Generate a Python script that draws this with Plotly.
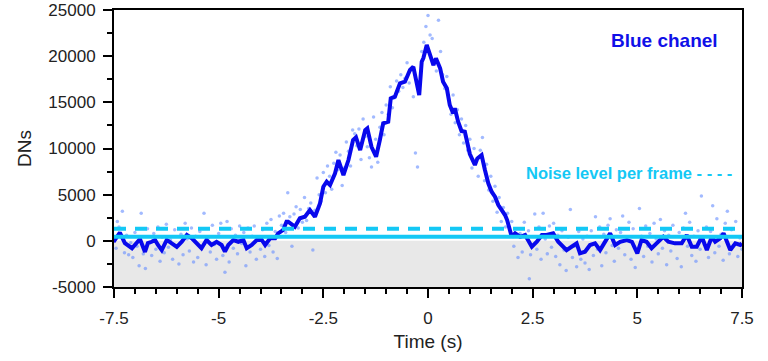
import plotly.graph_objects as go

# Smoothed signal (blue line)
line_t = [-7.5, -7.48, -7.36, -7.24, -7.07, -7.0, -6.88, -6.76, -6.69, -6.6, -6.52, -6.45, -6.36, -6.24, -6.12,
          -6.0, -5.88, -5.76, -5.64, -5.52, -5.41, -5.29, -5.17, -5.05, -4.93, -4.85, -4.77, -4.65, -4.53,
          -4.41, -4.33, -4.21, -4.09, -3.97, -3.89, -3.77, -3.65, -3.58, -3.5, -3.46, -3.38, -3.34, -3.18,
          -3.06, -2.94, -2.82, -2.7, -2.58, -2.5, -2.42, -2.34, -2.22, -2.14, -2.02, -1.9, -1.79, -1.72,
          -1.62, -1.5, -1.45, -1.35, -1.24, -1.15, -1.07, -0.95, -0.89, -0.79, -0.67, -0.55, -0.43, -0.35,
          -0.27, -0.21, -0.15, -0.11, -0.03, 0.05, 0.13, 0.19, 0.29, 0.36, 0.45, 0.52, 0.6, 0.64, 0.72,
          0.8, 0.88, 1.0, 1.12, 1.18, 1.28, 1.36, 1.44, 1.52, 1.6, 1.68, 1.76, 1.84, 1.89, 1.96, 2.0,
          2.08, 2.2, 2.32, 2.48, 2.6, 2.72, 2.83, 2.99, 3.11, 3.31, 3.43, 3.55, 3.63, 3.75, 3.87, 3.99,
          4.11, 4.2, 4.35, 4.47, 4.59, 4.75, 4.87, 5.0, 5.1, 5.22, 5.34, 5.46, 5.62, 5.74, 5.9, 6.06,
          6.18, 6.3, 6.42, 6.54, 6.66, 6.78, 6.86, 6.98, 7.06, 7.22, 7.34, 7.46, 7.5]
line_v = [200, 90, 900, -250, -800, -450, 200, -1200, -250, -100, 90, -450, -1000, 100, -250,
          -650, -100, 630, 270, -270, -800, 90, -450, -100, -450, -1180, -450, 90, -100,
          90, -800, -450, 90, 90, -450, 270, 270, 800, 1000, 1170, 2070, 2070, 1530,
          2440, 2610, 3340, 2610, 4060, 5860, 6400, 6040, 7310, 8750, 7130, 8750, 10920, 11210,
          9830, 12000, 12180, 10190, 9110, 10920, 12720, 12900, 15430, 15610, 17060, 17230, 18500, 18850,
          17000, 15790, 19400, 19800, 21210, 20120, 19040, 19760, 18680, 17230, 16520, 14710, 13810, 14350, 12900,
          11900, 11820, 9400, 8210, 8930, 9290, 7670, 6230, 5320, 4780, 3880, 3340, 2790, 2250, 1170, 440,
          810, 440, 630, -640, -100, 630, 630, 810, -100, -1000, -640, -270, -1350, -1180, -450, -270,
          -1000, -270, 810, -450, -100, 90, -100, -1350, 90, -100, -800, -270, 440, -100, -270, -270,
          630, -640, -640, 440, -1000, 440, -100, 270, 810, -1000, -270, -450, -300]

# Raw per-frame values (light blue dots)
raw_t = [-7.45, -7.42, -7.38, -7.3, -7.25, -7.2, -7.15, -7.1, -7.05, -7.0, -6.95, -6.9, -6.85, -6.8, -6.75,
         -6.7, -6.65, -6.6, -6.55, -6.5, -6.45, -6.4, -6.35, -6.3, -6.25, -6.2, -6.15, -6.1, -6.05, -6.0,
         -5.95, -5.9, -5.85, -5.8, -5.75, -5.7, -5.65, -5.6, -5.55, -5.5, -5.45, -5.4, -5.35, -5.3, -5.25,
         -5.2, -5.15, -5.1, -5.05, -5.0, -4.95, -4.9, -4.85, -4.8, -4.75, -4.7, -4.65, -4.6, -4.55, -4.5,
         -4.45, -4.4, -4.35, -4.3, -4.25, -4.2, -4.15, -4.1, -4.05, -4.0, -3.95, -3.9, -3.85, -3.8, -3.75,
         -3.7, -3.65, -3.6, -3.55, -3.5,
         -3.45, -3.4, -3.35, -3.3, -3.25, -3.2, -3.15, -3.1, -3.05, -3.0, -2.95, -2.9, -2.85, -2.8, -2.75,
         -2.7, -2.65, -2.6, -2.55, -2.5, -2.45, -2.4, -2.35, -2.3, -2.25, -2.2, -2.15, -2.1, -2.05, -2.0,
         -1.95, -1.9, -1.85, -1.8, -1.75, -1.7, -1.65, -1.6, -1.55, -1.5, -1.45, -1.4, -1.35, -1.3, -1.25,
         -1.2, -1.15, -1.1, -1.05, -1.0, -0.95, -0.9, -0.85, -0.8, -0.75, -0.7, -0.65, -0.6, -0.55, -0.5,
         -0.45, -0.4, -0.35, -0.3, -0.25, -0.2, -0.15, -0.1,
         -0.05, 0.0, 0.05, 0.1, 0.12, 0.25, 0.2, 0.3, 0.35, 0.4, 0.45, 0.5, 0.55, 0.6, 0.65, 0.7, 0.75,
         0.8, 0.85, 0.9, 0.95, 1.0, 1.05, 1.1, 1.15, 1.2, 1.25, 1.3, 1.35, 1.4, 1.45, 1.5, 1.55, 1.6,
         1.65, 1.7, 1.75, 1.8, 1.85, 1.9, 1.95, 2.0, 2.05, 2.1, 2.15, 2.2,
         2.25, 2.3, 2.42, 2.4, 2.45, 2.55, 2.6, 2.65, 2.7, 2.75, 2.8, 2.85, 2.9, 2.95, 3.0, 3.05, 3.1,
         3.15, 3.2, 3.25, 3.3, 3.35, 3.4, 3.45, 3.5, 3.55, 3.6, 3.65, 3.7, 3.75, 3.8, 3.85, 3.9, 3.95,
         4.0, 4.05, 4.1, 4.15, 4.2, 4.25, 4.3, 4.35, 4.4, 4.45, 4.5, 4.55, 4.6, 4.65, 4.7, 4.75, 4.8,
         4.85, 4.9, 4.95, 5.0, 5.05, 5.1, 5.15, 5.2, 5.25, 5.3, 5.35, 5.4, 5.45, 5.5, 5.55, 5.6, 5.65,
         5.7, 5.75, 5.8, 5.85, 5.9, 5.95, 6.0, 6.05, 6.1, 6.15, 6.2, 6.25, 6.3, 6.35, 6.4, 6.45, 6.5,
         6.53, 6.6, 6.65, 6.7, 6.75, 6.8, 6.85, 6.9, 6.95, 7.0, 7.05, 7.1, 7.15, 7.2, 7.25, 7.3, 7.35,
         7.4, 7.45, 7.5]
raw_v = [-800, 2100, 1500, 3200, -1300, 600, -1500, -200, -1800, 900, -600, -2700, 3000, -1400, -3000,
         1300, -200, -1600, 800, -900, 1500, -2200, 400, -1300, 1800, -700, 100, -2000, 1200, -500,
         -2500, 700, -1500, 1900, 200, -1100, 1400, -2300, 500, -1800, 1000, -600, 3000, -2600, 300,
         -1200, 1700, -400, -2000, 800, 1900, -1600, -3400, 2100, -2300, 1300, -800, 600, -1400, 1600,
         -300, 900, -2700, 1400, -1200, 500, 1600, -2000, 300, -900, 1200, -1700, 1900, -500, 2300,
         -1200, 1000, -1900, 2700, 1700,
         3000, 900, 5200, 2600, -600, 2900, 3700, 1400, 3400, 2000, 4700, 2200, 3500, 4100, -1000,
         3300, 6800, 5000, 4300, 7400, 5200, 8100, 7000, 5600, 8400, 9600, 7700, 9300, 6000, 7900,
         10700, 9700, 8100, 12000, 11600, 10300, 12100, 8800, 13200, 11300, 10200, 9000, 8000, 13400, 11000,
         8500, 12300, 13900, 11500, 14700, 13700, 16700, 14400, 15500, 17300, 16200, 18000, 16600, 17600, 19300,
         17100, 18500, 15600, 9500, 8000, 17000, 20500, 21500,
         23200, 24400, 22300, 21900, 19100, 23900, 18400, 20500, 18000, 16500, 17800, 15300, 13700, 15800, 12800, 14200, 11500,
         13200, 10600, 12500, 9800, 11000, 7900, 10000, 8800, 7000, 9800, 11200, 6500, 8300, 5500, 7000, 4300, 5900,
         3100, 4700, 2100, 3600, 1500, 3000, 500, 2100, -600, 1300, -1800, 800,
         -1200, 2000, -4100, 1100, -1500, 2900, -900, 1500, -2000, 3000, 200, -1400, 1600, -700, 1900, -1700, 600,
         -2600, 1100, -1000, -3200, 400, 3400, -1800, -600, -2800, 1000, -2000, 200, -2400, 500, -3100, 1100, -1600,
         2600, -900, 1500, -2700, 700, -1300, 1700, 2400, -500, -2200, 1200, -800, 900, 2700, -1500, 400, 2000,
         -2000, 1300, -2900, -1000, 3500, 500, -1700, 1600, -600, 800, -2300, 1900, 200, -1400, 2300, -800, 1100,
         -2600, 600, -1100, 1700, -300, -1900, 900, -2800, 1400, 3000, -600, 2000, -1600, 500, -2200, 1100, -900,
         4850, -400, 1500, -1800, 1000, 3800, -1300, 2400, -600, 700, -2100, 1900, 3200, -1400, 1200, -500, 2100,
         -1700, 300, -900]

noise_mean = 450
noise_level = 1300

x_ticks = [-7.5, -5, -2.5, 0, 2.5, 5, 7.5]
x_labels = ["-7.5", "-5", "-2.5", "0", "2.5", "5", "7.5"]
y_ticks = [-5000, 0, 5000, 10000, 15000, 20000, 25000]
y_labels = ["-5000", "0", "5000", "10000", "15000", "20000", "25000"]

FONT = "Liberation Sans"
CYAN = "#14c8f5"

fig = go.Figure()

# Gray band below zero
fig.add_shape(type="rect", xref="paper", yref="y", x0=0, x1=1, y0=y_ticks[0], y1=0,
              fillcolor="#e8e8e8", line_width=0, layer="below")

fig.add_trace(go.Scatter(x=raw_t, y=raw_v, mode="markers",
                         marker=dict(size=3.5, color="rgba(100,140,255,0.6)"),
                         showlegend=False, hoverinfo="skip"))

fig.add_shape(type="line", xref="paper", yref="y", x0=0, x1=1, y0=noise_mean, y1=noise_mean,
              line=dict(color=CYAN, width=4))
fig.add_shape(type="line", xref="paper", yref="y", x0=0, x1=1, y0=noise_level, y1=noise_level,
              line=dict(color=CYAN, width=4, dash="12px,9px"))

fig.add_trace(go.Scatter(x=line_t, y=line_v, mode="lines",
                         line=dict(color="#0808ec", width=4),
                         showlegend=False))

fig.add_annotation(x=0.965, y=0.89, xref="paper", yref="paper", xanchor="right", yanchor="middle",
                   text="<b>Blue chanel</b>", showarrow=False,
                   font=dict(family=FONT, size=19, color="#1010e8"))
fig.add_annotation(x=0.987, y=0.41, xref="paper", yref="paper", xanchor="right", yanchor="middle",
                   text="<b>Noise level per frame - - - -</b>", showarrow=False,
                   font=dict(family=FONT, size=16.5, color=CYAN))

fig.update_layout(
    width=768, height=361,
    margin=dict(l=114, r=26, t=10, b=74),
    plot_bgcolor="white", paper_bgcolor="white",
    font=dict(family=FONT, size=17, color="#222"),
    xaxis=dict(range=[-7.5, 7.5], tickvals=x_ticks, ticktext=x_labels, automargin=False,
               showgrid=False, zeroline=False, showline=True, linecolor="black", linewidth=2,
               mirror=True, ticks="outside", ticklen=9, tickwidth=2, tickcolor="black",
               ticklabelstandoff=6,
               minor=dict(dtick=0.5, tick0=0, ticks="outside", ticklen=5, tickwidth=2, tickcolor="black"),
               title=dict(text="Time (s)", standoff=7, font=dict(size=19))),
    yaxis=dict(range=[-5000, 25000], tickvals=y_ticks, ticktext=y_labels, automargin=False,
               showgrid=False, zeroline=False, showline=True, linecolor="black", linewidth=2,
               mirror=True, ticks="outside", ticklen=9, tickwidth=2, tickcolor="black",
               ticklabelstandoff=4,
               minor=dict(dtick=2500, tick0=0, ticks="outside", ticklen=5, tickwidth=2, tickcolor="black"),
               title=dict(text="DNs", standoff=12, font=dict(size=19))),
)

fig.write_html("out.html")
